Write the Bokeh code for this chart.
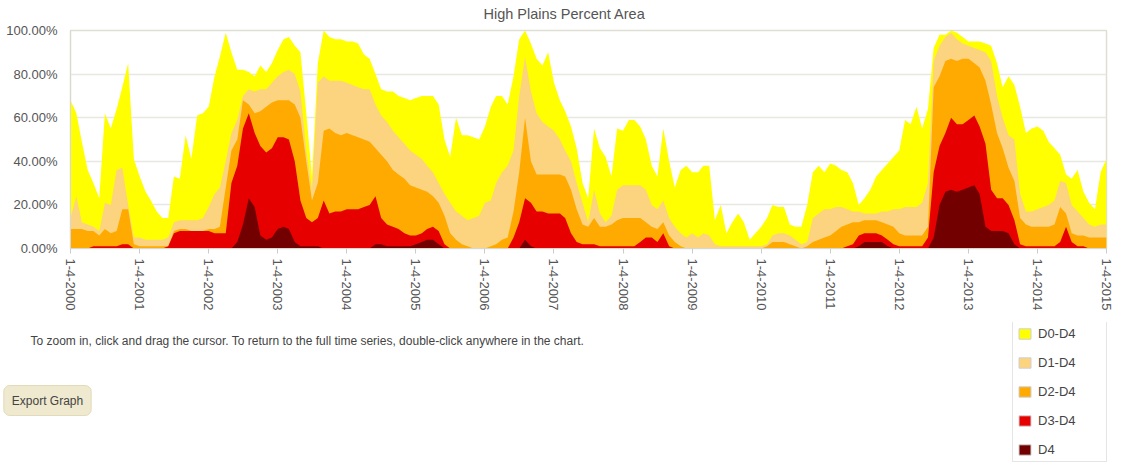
import math
import pandas as pd
from bokeh.plotting import figure
from bokeh.layouts import column
from bokeh.models import (ColumnDataSource, Range1d, FixedTicker, Legend,
                          LegendItem, Label)
from bokeh.embed import file_html
from bokeh.resources import INLINE

# ---- data (percent of area, monthly readings, Jan 2000 .. Jan 2015) ----
d0_d4 = [
    68, 62, 49, 36, 30, 23, 62, 55, 64, 74, 85, 41,
    33, 26, 22, 17, 14, 14, 33, 32, 52, 41, 61, 62,
    65, 79, 88, 99, 90, 82, 82, 81, 79, 84, 81, 85,
    91, 96, 97, 93, 90, 62, 33, 85, 100, 97, 96, 96,
    95, 95, 94, 89, 87, 80, 73, 72, 72, 70, 69, 68,
    69, 70, 70, 70, 66, 50, 42, 60, 52, 52, 51, 50,
    56, 65, 70, 70, 66, 79, 96, 100, 94, 87, 84, 90,
    76, 68, 63, 56, 46, 30, 23, 55, 46, 42, 33, 55,
    54, 59, 59, 56, 50, 38, 33, 55, 40, 28, 36, 38,
    35, 35, 38, 38, 13, 20, 7, 12, 16, 12, 4, 7,
    10, 14, 20, 19, 19, 11, 10, 10, 20, 35, 38, 35,
    39, 38, 36, 35, 30, 20, 23, 27, 33, 36, 39, 42,
    45, 59, 57, 65, 55, 64, 92, 98, 98, 100, 99, 97,
    95, 95, 95, 94, 93, 85, 74, 79, 75, 65, 53, 55,
    56, 54, 49, 46, 43, 34, 32, 36, 26, 21, 18, 35,
    41,
]
d1_d4 = [
    14, 24, 12, 11, 10, 8, 21, 20, 36, 37, 20, 5,
    5, 4, 4, 4, 4, 5, 12, 13, 13, 13, 13, 14,
    19, 25, 28, 40, 53, 59, 70, 73, 72, 73, 73, 76,
    79, 81, 82, 80, 72, 45, 27, 76, 79, 77, 77, 77,
    76, 75, 74, 73, 73, 66, 61, 58, 54, 51, 48, 45,
    43, 41, 38, 35, 30, 25, 21, 17, 15, 13, 14, 15,
    21, 22, 30, 35, 38, 45, 70, 88, 72, 62, 58, 56,
    54, 50, 45, 40, 30, 21, 12, 27, 16, 12, 15, 27,
    29, 29, 29, 29, 27, 20, 18, 22, 14, 10, 7, 5,
    7, 5, 7, 6, 2, 1, 1, 1, 1, 1, 1, 1,
    1, 2, 6, 7, 7, 6, 4, 2, 3, 14, 16, 18,
    18, 19, 19, 18, 17, 17, 16, 16, 16, 17, 17, 18,
    18, 19, 19, 19, 21, 30, 86, 93, 97, 99, 96, 94,
    93, 92, 91, 90, 86, 70, 60, 52, 50, 25, 17, 17,
    18, 19, 20, 22, 31, 30, 20, 17, 14, 11, 10, 11,
    11,
]
d2_d4 = [
    9, 9, 9, 8, 8, 6, 9, 7, 8, 18, 18, 2,
    1, 1, 1, 1, 1, 1, 8, 9, 9, 8, 8, 8,
    9, 9, 10, 28, 45, 50, 68, 66, 62, 63, 65, 67,
    68, 68, 68, 66, 60, 40, 22, 30, 54, 55, 53, 52,
    53, 52, 51, 50, 49, 46, 43, 40, 36, 34, 32, 29,
    28, 27, 26, 24, 21, 15, 7, 4, 2, 1, 0, 0,
    0, 1, 2, 4, 5, 17, 35, 60, 40, 34, 34, 34,
    34, 34, 33, 27, 18, 11, 10, 14, 10, 10, 11, 13,
    14, 14, 14, 14, 12, 10, 9, 12, 6, 3, 1, 0,
    0, 0, 0, 0, 0, 0, 0, 0, 0, 0, 0, 0,
    0, 1, 3, 3, 3, 2, 1, 0, 1, 3, 4, 5,
    6, 8, 10, 11, 12, 12, 13, 13, 13, 12, 11, 10,
    7, 6, 6, 6, 6, 10, 74, 79, 86, 87, 86, 87,
    87, 85, 83, 77, 66, 53, 46, 37, 31, 14, 11, 10,
    10, 10, 10, 11, 19, 16, 7, 6, 6, 5, 5, 5,
    5,
]
d3_d4 = [
    0, 0, 0, 0, 1, 1, 1, 1, 1, 2, 2, 0,
    0, 0, 0, 0, 0, 1, 7, 8, 8, 8, 8, 8,
    8, 7, 7, 7, 30, 38, 55, 62, 53, 47, 44, 46,
    51, 51, 50, 40, 22, 14, 12, 14, 22, 16, 17, 17,
    18, 18, 18, 19, 20, 24, 14, 11, 10, 9, 7, 6,
    6, 7, 9, 10, 8, 2, 0, 0, 0, 0, 0, 0,
    0, 0, 0, 0, 0, 5, 12, 23, 21, 17, 17, 16,
    16, 16, 14, 7, 3, 2, 2, 2, 1, 1, 1, 1,
    1, 1, 1, 3, 5, 5, 3, 7, 1, 0, 0, 0,
    0, 0, 0, 0, 0, 0, 0, 0, 0, 0, 0, 0,
    0, 0, 0, 0, 0, 0, 0, 0, 0, 0, 0, 0,
    0, 0, 0, 1, 2, 6, 7, 7, 7, 6, 4, 2,
    1, 1, 1, 1, 1, 5, 35, 47, 53, 60, 57, 57,
    59, 61, 56, 48, 27, 23, 23, 20, 13, 2, 1, 1,
    1, 1, 1, 1, 3, 10, 3, 1, 1, 0, 0, 0,
    0,
]
d4 = [
    0, 0, 0, 0, 0, 0, 0, 0, 0, 0, 0, 0,
    0, 0, 0, 0, 0, 0, 0, 0, 0, 0, 0, 0,
    0, 0, 0, 0, 0, 3, 11, 23, 19, 6, 4, 5,
    9, 10, 9, 3, 1, 1, 1, 1, 0, 0, 0, 0,
    0, 0, 0, 0, 0, 2, 2, 1, 1, 1, 1, 1,
    2, 3, 4, 4, 2, 0, 0, 0, 0, 0, 0, 0,
    0, 0, 0, 0, 0, 0, 0, 4, 1, 0, 0, 0,
    0, 0, 0, 0, 0, 0, 0, 0, 0, 0, 0, 0,
    0, 0, 0, 0, 0, 0, 0, 0, 0, 0, 0, 0,
    0, 0, 0, 0, 0, 0, 0, 0, 0, 0, 0, 0,
    0, 0, 0, 0, 0, 0, 0, 0, 0, 0, 0, 0,
    0, 0, 0, 0, 0, 1, 3, 3, 3, 3, 1, 0,
    0, 0, 0, 0, 0, 0, 5, 20, 26, 27, 26, 27,
    28, 29, 25, 10, 8, 8, 8, 7, 2, 0, 0, 0,
    0, 0, 0, 0, 0, 0, 0, 0, 0, 0, 0, 0,
    0,
]

series_names = ["D0-D4", "D1-D4", "D2-D4", "D3-D4", "D4"]
series_colors = ["#ffff00", "#fcd37f", "#ffaa00", "#e60000", "#730000"]

tick_years = list(range(2000, 2016))
tick_labels = ["1-4-%d" % y for y in tick_years]
y_ticks = [0, 20, 40, 60, 80, 100]
y_tick_labels = ["0.00%", "20.00%", "40.00%", "60.00%", "80.00%", "100.00%"]

title_text = "High Plains Percent Area"
note_text = ("To zoom in, click and drag the cursor. To return to the full time "
             "series, double-click anywhere in the chart.")
button_text = "Export Graph"

FONT = "Liberation Sans"
W = 1120
TOP_H, MAIN_H, BOT_H = 22, 300, 142


def blank(h):
    f = figure(width=W, height=h, output_backend="svg", toolbar_location=None,
               x_axis_location=None, y_axis_location=None,
               min_border=0, x_range=Range1d(0, W), y_range=Range1d(0, h),
               frame_align=False)
    f.grid.visible = False
    f.outline_line_color = None
    f.background_fill_color = "white"
    f.border_fill_color = "white"
    return f


# ---- title strip ----
p_top = blank(TOP_H)
p_top.add_layout(Label(x=564, y=TOP_H - 13, text=title_text, text_align="center",
                       text_baseline="middle", text_font=FONT,
                       text_font_size="14.5px", text_color="#555555"))

# ---- main chart ----
dates = pd.date_range("2000-01-04", periods=len(d0_d4), freq=pd.DateOffset(months=1))
src = ColumnDataSource(dict(date=dates, d0=d0_d4, d1=d1_d4, d2=d2_d4, d3=d3_d4, d4=d4))

p = figure(width=W, height=MAIN_H, x_axis_type="datetime",
           output_backend="svg", toolbar_location=None, frame_align=False,
           min_border_left=70, min_border_right=W - 70 - 1036,
           min_border_top=8, min_border_bottom=MAIN_H - 8 - 218)
p.x_range = Range1d(dates[0], dates[-1])
p.y_range = Range1d(0, 100)

for col, c in zip(["d0", "d1", "d2", "d3", "d4"], series_colors):
    p.varea(x="date", y1=0, y2=col, source=src, fill_color=c, fill_alpha=1.0)

tick_ms = [pd.Timestamp("%d-01-04" % y).value // 10**6 for y in tick_years]
p.xaxis.ticker = FixedTicker(ticks=tick_ms)
p.xaxis.major_label_overrides = {t: l for t, l in zip(tick_ms, tick_labels)}
p.xaxis.major_label_orientation = -math.pi / 2
p.xaxis.minor_tick_line_color = None
p.xaxis.major_tick_in = 0
p.xaxis.major_tick_out = 5
p.xaxis.major_tick_line_color = "#cccccc"
p.xaxis.axis_line_color = "#d8d8d0"
p.xaxis.major_label_standoff = 5

p.yaxis.ticker = FixedTicker(ticks=y_ticks)
p.yaxis.major_label_overrides = {t: l for t, l in zip(y_ticks, y_tick_labels)}
p.yaxis.minor_tick_line_color = None
p.yaxis.major_tick_line_color = None
p.yaxis.axis_line_color = "#d8d8d0"
p.yaxis.major_label_standoff = 7

for ax in (p.xaxis[0], p.yaxis[0]):
    ax.major_label_text_font = FONT
    ax.major_label_text_font_size = "13px"
    ax.major_label_text_color = "#555555"

p.xgrid.grid_line_color = None
p.ygrid.grid_line_color = "#e8e8e2"
p.ygrid.grid_line_width = 1.5
p.outline_line_color = "#deded4"
p.outline_line_width = 1.5
p.background_fill_color = "white"
p.border_fill_color = "white"

# ---- bottom strip: note, button, legend ----
p_bot = blank(BOT_H)
p_bot.add_layout(Label(x=30, y=BOT_H - 18, text=note_text, text_align="left",
                       text_baseline="middle", text_font=FONT,
                       text_font_size="12px", text_color="#444444"))
p_bot.add_layout(Label(x=47, y=BOT_H - 78, text=button_text, text_align="center",
                       text_baseline="middle", text_font=FONT,
                       text_font_size="12px", text_color="#444444",
                       background_fill_color="#efe9cf", border_line_color="#e2dab8",
                       padding=8, border_radius=6))

# legend swatches: one off-canvas proxy per series (not drawn in view)
proxy_src = ColumnDataSource(dict(x=[-500], y=[-500]))
proxies = [p_bot.rect(x="x", y="y", width=1, height=1, source=proxy_src,
                      fill_color=c, line_color="#d0d0d0") for c in series_colors]
items = [LegendItem(label=n, renderers=[r], index=0)
         for n, r in zip(series_names, proxies)]
legend = Legend(items=items, location=(1012, 2), orientation="vertical",
                border_line_color="#cccccc", border_line_width=1,
                background_fill_color="white", background_fill_alpha=1.0,
                padding=4, margin=0, spacing=14,
                glyph_width=15, glyph_height=13, label_height=13,
                label_width=64, label_standoff=6,
                label_text_font=FONT, label_text_font_size="13px",
                label_text_color="#444444", label_text_baseline="middle")
p_bot.add_layout(legend, "center")

layout = column(p_top, p, p_bot, spacing=0)
open("out.html", "w").write(file_html(layout, INLINE))
